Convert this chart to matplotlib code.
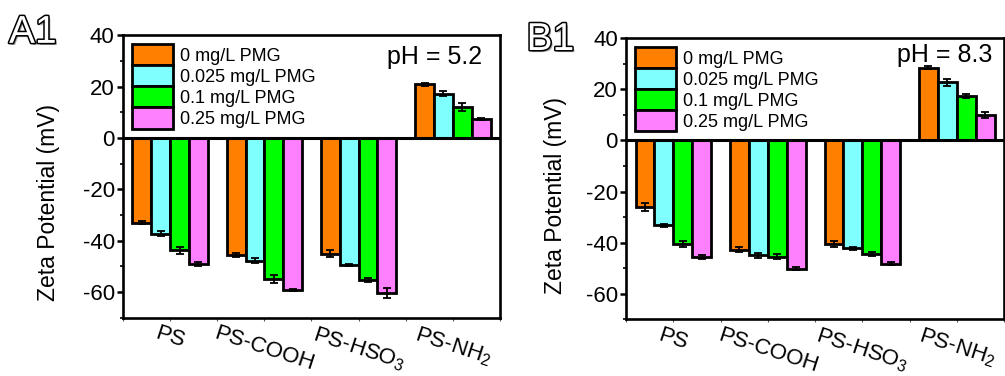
import matplotlib
matplotlib.use("Agg")
import matplotlib.pyplot as plt
import matplotlib.patheffects as pe
import numpy as np

plt.rcParams["font.family"] = ["Liberation Sans", "DejaVu Sans"]
plt.rcParams["mathtext.fontset"] = "custom"
plt.rcParams["mathtext.rm"] = "Liberation Sans"
plt.rcParams["mathtext.it"] = "Liberation Sans"
plt.rcParams["axes.unicode_minus"] = False

# Particle types and PMG concentrations
categories = ["PS", "PS-COOH", r"PS-HSO$_3$", r"PS-NH$_2$"]
series_labels = ["0 mg/L PMG", "0.025 mg/L PMG", "0.1 mg/L PMG", "0.25 mg/L PMG"]
series_colors = ["#FF8000", "#80FFFF", "#00FF00", "#FF80FF"]

# Zeta potential (mV) at pH 5.2, one list per PMG concentration (PS, COOH, HSO3, NH2)
zeta_a = [
    [-32.9, -45.6, -45.0, 20.9],
    [-37.2, -47.8, -49.5, 17.3],
    [-43.7, -54.8, -55.4, 12.1],
    [-48.9, -59.3, -60.4, 7.4],
]
err_a = [
    [0.6, 0.7, 1.3, 0.7],
    [1.0, 0.9, 0.4, 1.0],
    [1.3, 1.5, 0.8, 1.5],
    [0.8, 0.3, 1.8, 0.5],
]

# Zeta potential (mV) at pH 8.3
zeta_b = [
    [-26.0, -42.7, -40.5, 28.5],
    [-33.2, -45.0, -42.3, 22.8],
    [-40.5, -45.5, -44.3, 17.6],
    [-45.5, -50.2, -48.2, 10.0],
]
err_b = [
    [1.5, 1.0, 1.2, 0.6],
    [0.6, 1.0, 0.6, 1.3],
    [1.3, 1.0, 0.8, 0.8],
    [0.8, 0.6, 0.6, 1.0],
]

fig = plt.figure(figsize=(10.05, 3.76), dpi=100)
ax_a = fig.add_axes([0.1224, 0.155, 0.3751, 0.7506])
ax_b = fig.add_axes([0.623, 0.151, 0.376, 0.747])

bar_w = 0.2
x = np.arange(1, len(categories) + 1)


def draw_panel(ax, values, errors, ylim, ph_text, ph_pos, label_xy):
    for i, (vals, errs) in enumerate(zip(values, errors)):
        pos = x + (i - 1.5) * bar_w
        ax.bar(pos, vals, width=bar_w, color=series_colors[i], edgecolor="black",
               linewidth=2.0, label=series_labels[i], zorder=2)
        ax.errorbar(pos, vals, yerr=errs, fmt="none", ecolor="black",
                    elinewidth=1.3, capsize=2.6, capthick=1.3, zorder=3)
    ax.axhline(0, color="black", linewidth=2.2, zorder=4)
    ax.set_xlim(0.5, 4.5)
    ax.set_ylim(*ylim)
    ax.set_yticks(np.arange(-60, 41, 20))
    ax.set_yticks(np.arange(-70, 41, 10), minor=True)
    ax.set_xticks(x)
    ax.set_xticks(np.arange(0.5, 4.6, 0.5), minor=True)
    ax.set_xticklabels(categories, rotation=-18, ha="center", fontsize=16)
    ax.tick_params(axis="y", which="major", direction="out", length=4, width=1.8,
                   labelsize=16, pad=2)
    ax.tick_params(axis="y", which="minor", direction="out", length=2.5, width=1.2)
    ax.tick_params(axis="x", which="both", direction="out", length=2, width=0.8,
                   color="#555555", pad=2)
    for s in ax.spines.values():
        s.set_linewidth(1.9)
    ax.set_ylabel("Zeta Potential (mV)", fontsize=16.5)
    ax.yaxis.set_label_coords(*label_xy)
    ax.text(ph_pos[0], ph_pos[1], ph_text, transform=ax.transAxes, fontsize=18,
            ha="right", va="center")
    ax.legend(loc="upper left", bbox_to_anchor=(0, 1), borderaxespad=0,
              borderpad=0.48, frameon=False, fontsize=13, handlelength=2.27,
              handleheight=1.42, labelspacing=0.0, handletextpad=0.38)


draw_panel(ax_a, zeta_a, err_a, (-70, 40), "pH = 5.2", (0.952, 0.925), (-0.167, 0.41))
draw_panel(ax_b, zeta_b, err_b, (-60, 40), "pH = 8.3", (0.97, 0.94), (-0.156, 0.44))

# Outlined panel tags
tag_fx = [pe.SimplePatchShadow(offset=(1.5, -1.5), shadow_rgbFace="#888888", alpha=0.8),
          pe.Stroke(linewidth=2.2, foreground="black"), pe.Normal()]
fig.text(0.009, 0.886, "A1", fontsize=28, color="white", path_effects=tag_fx)
fig.text(0.524, 0.867, "B1", fontsize=28, color="white", path_effects=tag_fx)

fig.savefig("out.png", dpi=100)
